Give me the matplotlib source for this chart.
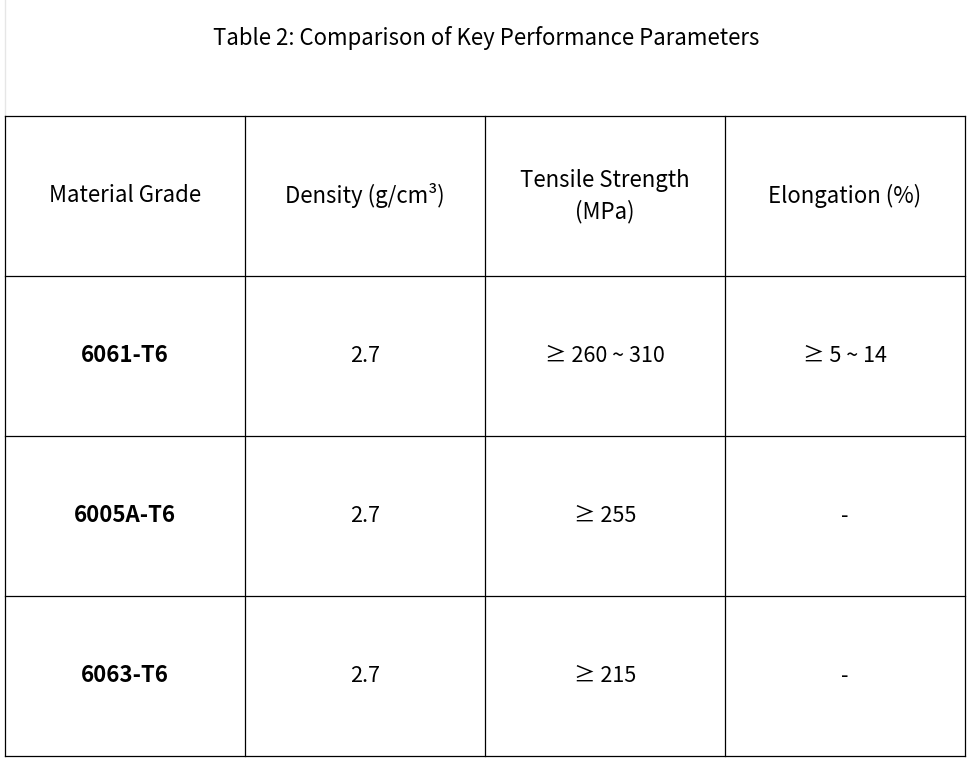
import matplotlib.pyplot as plt

plt.rcParams['font.family'] = ['Noto Sans CJK KR', 'DejaVu Sans']

title = "Table 2: Comparison of Key Performance Parameters"
headers = ["Material Grade", "Density (g/cm³)", "Tensile Strength\n(MPa)", "Elongation (%)"]
grades = ["6061-T6", "6005A-T6", "6063-T6"]
density = ["2.7", "2.7", "2.7"]
tensile = ["≥ 260 ~ 310", "≥ 255", "≥ 215"]
elongation = ["≥ 5 ~ 14", "-", "-"]

fig = plt.figure(figsize=(9.72, 7.6), dpi=100)
ax = fig.add_axes([0, 0, 1, 1])
ax.set_xlim(0, 972)
ax.set_ylim(760, 0)
ax.axis('off')

left, top, cw, rh = 5, 116, 240, 160
ncol, nrow = 4, 4

ax.text(486, 38, title, ha='center', va='center', fontsize=16)
ax.plot([left, left], [0, top], color='#e6e6e6', lw=1)

for i in range(ncol + 1):
    ax.plot([left + i * cw] * 2, [top, top + nrow * rh], color='black', lw=0.9)
for j in range(nrow + 1):
    ax.plot([left, left + ncol * cw] , [top + j * rh] * 2, color='black', lw=0.9)

for i, h in enumerate(headers):
    ax.text(left + (i + 0.5) * cw, top + 0.5 * rh, h, ha='center', va='center',
            fontsize=16, linespacing=1.4)

rows = list(zip(grades, density, tensile, elongation))
for j, row in enumerate(rows):
    y = top + (j + 1.5) * rh
    for i, val in enumerate(row):
        ax.text(left + (i + 0.5) * cw, y, val, ha='center', va='center',
                fontsize=16 if i == 0 else 15.5,
                fontweight='bold' if i == 0 else 'light')

fig.savefig('out.png', dpi=100)
